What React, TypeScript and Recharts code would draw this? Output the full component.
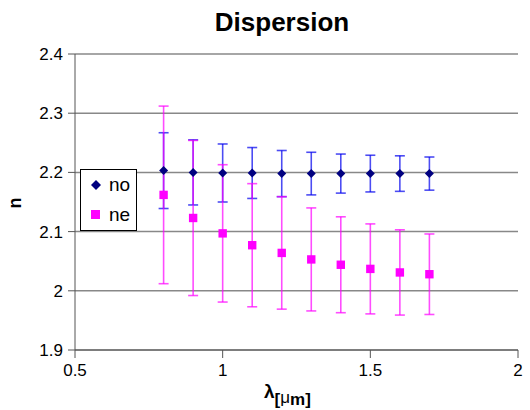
import React from "react";
import {
  ComposedChart,
  Scatter,
  XAxis,
  YAxis,
  CartesianGrid,
  ErrorBar,
} from "recharts";

// wavelength in µm
const lambda = [0.8, 0.9, 1.0, 1.1, 1.2, 1.3, 1.4, 1.5, 1.6, 1.7];
const noValues = [2.203, 2.2, 2.199, 2.199, 2.198, 2.198, 2.198, 2.198, 2.198, 2.198];
const noErrors = [0.064, 0.055, 0.049, 0.043, 0.039, 0.036, 0.033, 0.031, 0.03, 0.028];
const neValues = [2.162, 2.123, 2.097, 2.077, 2.064, 2.053, 2.044, 2.037, 2.031, 2.028];
const neErrors = [0.15, 0.131, 0.116, 0.104, 0.095, 0.087, 0.081, 0.076, 0.072, 0.068];
const xTicks = [0.5, 1, 1.5, 2];
const yTicks = [1.9, 2.0, 2.1, 2.2, 2.3, 2.4];

const noData = lambda.map((x, i) => ({ x, n: noValues[i], err: noErrors[i] }));
const neData = lambda.map((x, i) => ({ x, n: neValues[i], err: neErrors[i] }));

const FONT = "'Liberation Sans', Arial, sans-serif";

function Diamond({ cx, cy }: any) {
  const r = 4.5;
  return (
    <polygon
      points={`${cx},${cy - r} ${cx + r},${cy} ${cx},${cy + r} ${cx - r},${cy}`}
      fill="#000080"
    />
  );
}

function Square({ cx, cy }: any) {
  const r = 4.2;
  return <rect x={cx - r} y={cy - r} width={r * 2} height={r * 2} fill="#ff00ff" />;
}

const Empty = () => <g />;

export default function App() {
  return (
    <div
      style={{
        position: "absolute",
        left: 0,
        top: 0,
        width: 530,
        height: 410,
        background: "#fff",
        fontFamily: FONT,
      }}
    >
      <ComposedChart
        width={530}
        height={410}
        margin={{ top: 54, right: 12, bottom: 30, left: 15 }}
      >
        <CartesianGrid vertical={false} stroke="#888" strokeWidth={1.5} />
        <XAxis
          type="number"
          dataKey="x"
          domain={[0.5, 2]}
          ticks={xTicks}
          interval={0}
          height={30}
          tickSize={8}
          tickMargin={6}
          stroke="#555"
          tick={{ fill: "#000", fontSize: 17, fontFamily: FONT }}
          allowDataOverflow
        />
        <YAxis
          type="number"
          dataKey="n"
          domain={[1.9, 2.4]}
          ticks={yTicks}
          interval={0}
          width={60}
          tickSize={7}
          tickMargin={5}
          stroke="#555"
          tick={{ fill: "#000", fontSize: 17, fontFamily: FONT }}
          tickFormatter={(v: number) => String(Number(v.toFixed(1)))}
          allowDataOverflow
        />
        {/* error bars first so markers sit on top */}
        <Scatter data={noData} shape={<Empty />} isAnimationActive={false}>
          <ErrorBar
            dataKey="err"
            direction="y"
            width={5}
            stroke="#0000ee"
            strokeOpacity={0.7}
            strokeWidth={1.6}
            isAnimationActive={false}
          />
        </Scatter>
        <Scatter data={neData} shape={<Empty />} isAnimationActive={false}>
          <ErrorBar
            dataKey="err"
            direction="y"
            width={5}
            stroke="#ff00ff"
            strokeOpacity={0.7}
            strokeWidth={1.6}
            isAnimationActive={false}
          />
        </Scatter>
        <Scatter data={neData} shape={<Square />} isAnimationActive={false} />
        <Scatter data={noData} shape={<Diamond />} isAnimationActive={false} />
      </ComposedChart>

      {/* title */}
      <div
        style={{
          position: "absolute",
          left: 182,
          width: 200,
          top: 7,
          textAlign: "center",
          fontSize: 26,
          fontWeight: "bold",
        }}
      >
        Dispersion
      </div>

      {/* y label, rotated like the original */}
      <svg style={{ position: "absolute", left: 0, top: 180 }} width={40} height={40}>
        <text
          x={0}
          y={0}
          transform="translate(21,23) rotate(-90)"
          textAnchor="middle"
          fontSize={18}
          fontWeight="bold"
          fontFamily={FONT}
        >
          n
        </text>
      </svg>

      {/* x label */}
      <div
        style={{
          position: "absolute",
          left: 264,
          top: 381,
          fontSize: 19,
          fontWeight: "bold",
          whiteSpace: "nowrap",
        }}
      >
        λ
        <span style={{ fontSize: 17, position: "relative", top: 7 }}>
          [<span style={{ fontWeight: "normal", position: "relative", top: -2 }}>μ</span>m]
        </span>
      </div>

      {/* legend */}
      <div
        style={{
          position: "absolute",
          left: 80,
          top: 169,
          width: 55,
          height: 60,
          border: "1px solid #000",
          background: "#fff",
          fontSize: 19,
          lineHeight: "30px",
        }}
      >
        <div style={{ display: "flex", alignItems: "center" }}>
          <svg width={28} height={30}>
            <polygon points="15,10 20,15 15,20 10,15" fill="#000080" />
          </svg>
          no
        </div>
        <div style={{ display: "flex", alignItems: "center" }}>
          <svg width={28} height={30}>
            <rect x={10} y={10} width={9} height={9} fill="#ff00ff" />
          </svg>
          ne
        </div>
      </div>
    </div>
  );
}
